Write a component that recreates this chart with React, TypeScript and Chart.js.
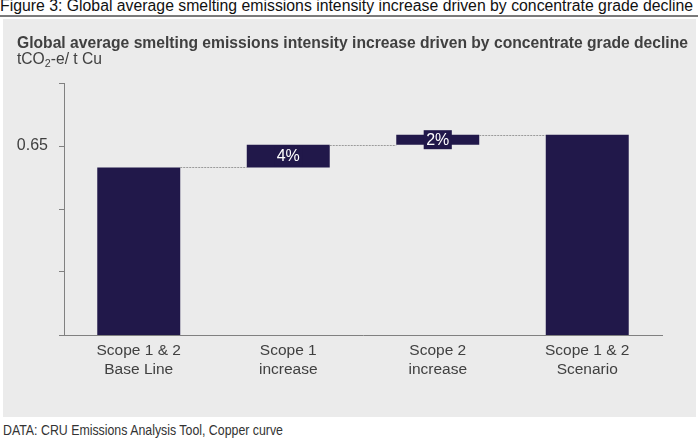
import React, { useEffect, useLayoutEffect, useRef } from "react";
import { Chart, registerables } from "chart.js";

Chart.register(...registerables);

const categories: string[][] = [
  ["Scope 1 & 2", "Base Line"],
  ["Scope 1", "increase"],
  ["Scope 2", "increase"],
  ["Scope 1 & 2", "Scenario"],
];
const barStarts: number[] = [0, 0.633, 0.651, 0];
const barEnds: number[] = [0.633, 0.651, 0.659, 0.659];
const barLabels: string[] = ["", "4%", "2%", ""];
const yLabeledTicks: number[] = [0.65];
const yMin = 0.5;
const yMax = 0.7;
const yStep = 0.05;

const BAR = "#21184a";
const TEXT = "#404040";
const AXIS = "#808080";
const FONT = "'Liberation Sans', Arial, sans-serif";

const overlayPlugin = {
  id: "waterfallExtras",
  afterDatasetsDraw(chart: any) {
    const meta = chart.getDatasetMeta(0);
    const yScale = chart.scales.y;
    const ctx = chart.ctx;
    ctx.save();
    // connectors
    ctx.strokeStyle = "#9a9a9a";
    ctx.lineWidth = 1;
    ctx.setLineDash([2, 1]);
    for (let i = 0; i < meta.data.length - 1; i++) {
      const a = meta.data[i];
      const b = meta.data[i + 1];
      const y = Math.round(yScale.getPixelForValue(barEnds[i])) + 0.5;
      ctx.beginPath();
      ctx.moveTo(a.x + a.width / 2, y);
      ctx.lineTo(b.x - b.width / 2, y);
      ctx.stroke();
    }
    ctx.setLineDash([]);
    // labels
    ctx.font = `16px ${FONT}`;
    ctx.textAlign = "center";
    ctx.textBaseline = "middle";
    for (let i = 0; i < meta.data.length; i++) {
      const lbl = barLabels[i];
      if (!lbl) continue;
      const el = meta.data[i];
      const cy = (el.y + el.base) / 2;
      const tw = ctx.measureText(lbl).width;
      const w = tw + 5;
      const h = 19;
      ctx.fillStyle = BAR;
      ctx.fillRect(el.x - w / 2, cy - h / 2, w, h);
      ctx.fillStyle = "#ffffff";
      ctx.fillText(lbl, el.x, cy + 0.5);
    }
    ctx.restore();
  },
};

function FitText(props: {
  width: number;
  left: number;
  top: number;
  size: number;
  color: string;
  bold?: boolean;
  children: React.ReactNode;
}) {
  const ref = useRef<HTMLDivElement | null>(null);
  useLayoutEffect(() => {
    const el = ref.current;
    if (!el) return;
    el.style.transform = "none";
    const w = el.getBoundingClientRect().width;
    if (w > 0) el.style.transform = `scaleX(${props.width / w})`;
  });
  return (
    <div
      ref={ref}
      style={{
        position: "absolute",
        left: props.left,
        top: props.top,
        fontSize: props.size,
        lineHeight: "18px",
        fontWeight: props.bold ? "bold" : "normal",
        color: props.color,
        whiteSpace: "nowrap",
        transformOrigin: "0 0",
        display: "inline-block",
      }}
    >
      {props.children}
    </div>
  );
}

export default function App() {
  const ref = useRef<HTMLCanvasElement | null>(null);

  useEffect(() => {
    if (!ref.current) return;
    const chart = new Chart(ref.current, {
      type: "bar",
      data: {
        labels: categories,
        datasets: [
          {
            data: barStarts.map((s, i) => [s, barEnds[i]]) as any,
            backgroundColor: BAR,
            borderWidth: 0,
            barPercentage: 0.555,
            categoryPercentage: 1,
            clip: 0 as any,
          },
        ],
      },
      options: {
        responsive: false,
        animation: false,
        devicePixelRatio: 1,
        layout: { padding: { top: 64, right: 34, left: 0, bottom: 0 } },
        plugins: {
          legend: { display: false },
          title: { display: false },
          tooltip: { enabled: false },
        },
        scales: {
          x: {
            grid: { display: false, drawTicks: false },
            border: { display: true, color: AXIS, width: 1 },
            ticks: {
              color: TEXT,
              padding: 6,
              font: { family: FONT, size: 15.5, lineHeight: 1.22 },
              maxRotation: 0,
              autoSkip: false,
            },
            afterFit(scale: any) {
              scale.height = 82;
            },
          },
          y: {
            min: yMin,
            max: yMax,
            grid: {
              drawOnChartArea: false,
              drawTicks: true,
              tickLength: 5,
              color: AXIS,
            },
            border: { display: true, color: AXIS, width: 1 },
            ticks: {
              stepSize: yStep,
              color: TEXT,
              padding: 11,
              font: { family: FONT, size: 16 },
              callback: (v: any) => {
                const hit = yLabeledTicks.find((t) => Math.abs(t - Number(v)) < 1e-6);
                return hit !== undefined ? hit.toFixed(2) : "";
              },
            },
            afterFit(scale: any) {
              scale.width = 61;
            },
          },
        },
      },
      plugins: [overlayPlugin],
    });
    return () => chart.destroy();
  }, []);

  return (
    <div
      style={{
        position: "fixed",
        left: 0,
        top: 0,
        width: 698,
        height: 438,
        background: "#ffffff",
        fontFamily: FONT,
        overflow: "hidden",
      }}
    >
      <FitText width={693} left={0} top={-3} size={15.8} color="#111111">
        Figure 3: Global average smelting emissions intensity increase driven by concentrate grade decline
      </FitText>
      <div
        style={{
          position: "absolute",
          left: 0,
          top: 15,
          width: 698,
          height: 2,
          background: "#7a7a7a",
        }}
      />
      <div
        style={{
          position: "absolute",
          left: 3,
          top: 19,
          width: 693,
          height: 398,
          background: "#ebebeb",
        }}
      >
        <canvas ref={ref} width={693} height={398} style={{ position: "absolute", left: 0, top: 0 }} />
        <FitText width={671} left={14} top={15} size={15.8} color={TEXT} bold>
          Global average smelting emissions intensity increase driven by concentrate grade decline
        </FitText>
        <FitText width={85} left={14} top={31} size={16} color={TEXT}>
          tCO<sub style={{ fontSize: 11, verticalAlign: "-3px", lineHeight: 0 }}>2</sub>-e/ t Cu
        </FitText>
      </div>
      <FitText width={280} left={3} top={421} size={15} color="#333333">
        DATA: CRU Emissions Analysis Tool, Copper curve
      </FitText>
    </div>
  );
}
